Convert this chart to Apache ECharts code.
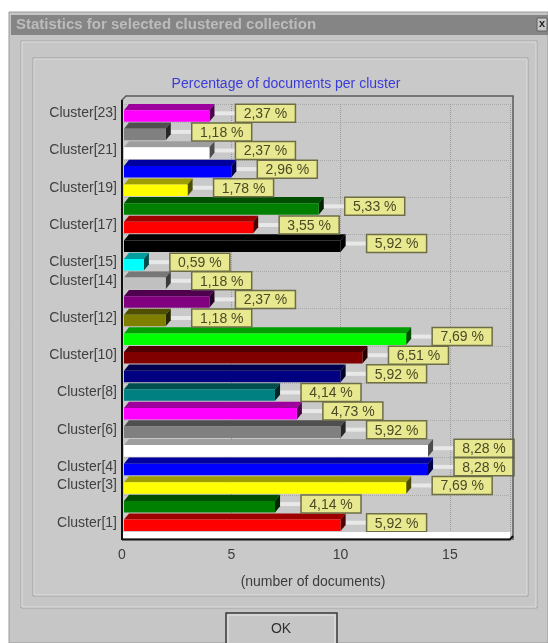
<!DOCTYPE html>
<html lang="en">
<head>
    <meta charset="UTF-8">
    <title>Statistics for selected clustered collection</title>
    <script src="https://cdn.jsdelivr.net/npm/echarts@6/dist/echarts.min.js"></script>
    <style>
        html, body { margin: 0; padding: 0; background: #ffffff; }
        #main { width: 548px; height: 643px; }
    </style>
</head>
<body>
    <div id="main"></div>
    <script>
        // categories from bottom to top
        const clusters = ['Cluster[1]', 'Cluster[2]', 'Cluster[3]', 'Cluster[4]', 'Cluster[5]', 'Cluster[6]',
            'Cluster[7]', 'Cluster[8]', 'Cluster[9]', 'Cluster[10]', 'Cluster[11]', 'Cluster[12]',
            'Cluster[13]', 'Cluster[14]', 'Cluster[15]', 'Cluster[16]', 'Cluster[17]', 'Cluster[18]',
            'Cluster[19]', 'Cluster[20]', 'Cluster[21]', 'Cluster[22]', 'Cluster[23]']
        // number of documents per cluster
        const docCounts = [10, 7, 13, 14, 14, 10, 8, 7, 10, 11, 13, 2, 4, 2, 1, 10, 6, 9, 3, 5, 4, 2, 4]
        // percentage labels as printed
        const percentLabels = ['5,92 %', '4,14 %', '7,69 %', '8,28 %', '8,28 %', '5,92 %', '4,73 %', '4,14 %',
            '5,92 %', '6,51 %', '7,69 %', '1,18 %', '2,37 %', '1,18 %', '0,59 %', '5,92 %', '3,55 %',
            '5,33 %', '1,78 %', '2,96 %', '2,37 %', '1,18 %', '2,37 %']
        const barColors = ['#ff0000', '#008000', '#ffff00', '#0000ff', '#ffffff', '#808080', '#ff00ff',
            '#008080', '#000080', '#800000', '#00ff00', '#808000', '#800080', '#c0c0c0', '#00ffff',
            '#000000', '#ff0000', '#008000', '#ffff00', '#0000ff', '#ffffff', '#808080', '#ff00ff']
        // y labels that the original shows
        const shownLabels = ['Cluster[1]', 'Cluster[3]', 'Cluster[4]', 'Cluster[6]', 'Cluster[8]', 'Cluster[10]',
            'Cluster[12]', 'Cluster[14]', 'Cluster[15]', 'Cluster[17]', 'Cluster[19]', 'Cluster[21]', 'Cluster[23]']
        const xTicks = [0, 5, 10, 15]

        const FONT = 'Liberation Sans, Arial, sans-serif'

        function shade(hex, f) {
            let n = parseInt(hex.slice(1), 16)
            let r = Math.round(((n >> 16) & 255) * f), g = Math.round(((n >> 8) & 255) * f), b = Math.round((n & 255) * f)
            return 'rgb(' + r + ',' + g + ',' + b + ')'
        }

        // 3D bar with a yellow value box
        function renderBar(params, api) {
            let idx = api.value(1), val = api.value(0)
            let p0 = api.coord([0, idx]), p1 = api.coord([val, idx])
            let band = api.size([0, 1])[1]
            let c = p0[1]
            let fTop = c - band * 0.17, fBot = c + band * 0.45
            let d = band * 0.33, dx = band * 0.27
            let x0 = p0[0] + 2, x1 = p1[0]
            let col = barColors[idx]
            let boxX = x1 + 26, boxW = 60, boxH = 18
            return {
                type: 'group',
                children: [
                    {
                        type: 'line',
                        shape: { x1: x1 + dx, y1: c, x2: boxX, y2: c },
                        style: { stroke: '#e8e8e8', lineWidth: 4 }
                    },
                    {
                        type: 'polygon',
                        shape: { points: [[x0, fTop], [x1, fTop], [x1 + dx, fTop - d], [x0 + dx, fTop - d]] },
                        style: { fill: shade(col, 0.62) }
                    },
                    {
                        type: 'polygon',
                        shape: { points: [[x1, fTop], [x1 + dx, fTop - d], [x1 + dx, fBot - d], [x1, fBot]] },
                        style: { fill: shade(col, 0.3) }
                    },
                    {
                        type: 'rect',
                        shape: { x: x0, y: fTop, width: x1 - x0, height: fBot - fTop },
                        style: { fill: col }
                    },
                    {
                        type: 'rect',
                        shape: { x: boxX, y: c - boxH / 2, width: boxW, height: boxH },
                        style: { fill: '#e8e890', stroke: '#6e6e46', lineWidth: 1.5 }
                    },
                    {
                        type: 'text',
                        style: {
                            text: percentLabels[idx], x: boxX + boxW / 2, y: c + 1,
                            align: 'center', verticalAlign: 'middle',
                            font: '14px ' + FONT, fill: '#4a4a26'
                        }
                    }
                ]
            }
        }

        let chart = echarts.init(document.getElementById('main'))
        let option = {
            backgroundColor: '#ffffff',
            animation: false,
            title: {
                text: 'Percentage of documents per cluster',
                left: 281, top: 72, textAlign: 'center',
                textStyle: { color: '#3a3ad8', fontSize: 14, fontWeight: 'normal', fontFamily: FONT }
            },
            grid: { left: 122, right: 38, top: 104, bottom: 111, containLabel: false },
            xAxis: {
                type: 'value', min: 0, max: 17.75, interval: 5,
                axisLine: { show: false },
                axisTick: { show: false },
                axisLabel: {
                    margin: 16, color: '#3c3c3c', fontSize: 14, fontFamily: FONT, showMaxLabel: false,
                    formatter: v => xTicks.includes(v) ? String(v) : ''
                },
                splitLine: { show: true, lineStyle: { color: '#9a9a9a', type: 'dotted' } },
                name: '(number of documents)', nameLocation: 'middle', nameGap: 43,
                nameTextStyle: { color: '#3c3c3c', fontSize: 14, fontFamily: FONT, padding: [0, 6, 0, 0] }
            },
            yAxis: {
                type: 'category', data: clusters,
                axisLine: { show: false },
                axisTick: { show: false },
                axisLabel: {
                    margin: 5, color: '#404040', fontSize: 14, fontFamily: FONT,
                    padding: [7, 0, 0, 0],
                    interval: (i, v) => shownLabels.includes(v)
                },
                splitLine: { show: true, interval: 1, lineStyle: { color: '#aaaaaa', type: 'dotted' } }
            },
            graphic: [
                // dialog body
                { type: 'rect', z: -100, shape: { x: 9, y: 12, width: 539, height: 631 }, style: { fill: '#c6c6c6', stroke: '#9a9a9a' } },
                { type: 'rect', z: -99, shape: { x: 11, y: 15, width: 537, height: 20 }, style: { fill: '#858585' } },
                { type: 'text', z: -98, style: { text: 'Statistics for selected clustered collection', x: 16, y: 25, verticalAlign: 'middle', font: 'bold 15px ' + FONT, fill: '#bcbcbc' } },
                { type: 'rect', z: -98, shape: { x: 537, y: 18, width: 10, height: 13 }, style: { fill: '#c6c6c6', stroke: '#606060' } },
                { type: 'text', z: -97, style: { text: 'x', x: 542, y: 24, align: 'center', verticalAlign: 'middle', font: 'bold 11px ' + FONT, fill: '#202020' } },
                // group box and panel
                { type: 'rect', z: -98, shape: { x: 21, y: 41, width: 516, height: 567 }, style: { fill: 'none', stroke: '#a4a4a4' } },
                { type: 'rect', z: -98, shape: { x: 22, y: 42, width: 514, height: 565 }, style: { fill: 'none', stroke: '#dedede' } },
                { type: 'rect', z: -98, shape: { x: 33, y: 58, width: 495, height: 538 }, style: { fill: '#c9c9c9', stroke: '#a0a0a0' } },
                { type: 'rect', z: -98, shape: { x: 34, y: 59, width: 493, height: 536 }, style: { fill: 'none', stroke: '#dcdcdc' } },
                // plot walls
                { type: 'polyline', z: 50, shape: { points: [[122, 540], [122, 100], [126, 96], [513, 96], [513, 540]] }, style: { stroke: '#5a5a5a', lineWidth: 1.5, fill: 'none' } },
                { type: 'line', z: 51, shape: { x1: 122, y1: 100, x2: 122, y2: 540 }, style: { stroke: '#101010', lineWidth: 2 } },
                { type: 'rect', z: 50, shape: { x: 122, y: 532, width: 388, height: 6 }, style: { fill: '#ffffff' } },
                { type: 'polyline', z: 51, shape: { points: [[122, 539.5], [510, 539.5], [513, 536]] }, style: { stroke: '#101010', lineWidth: 2, fill: 'none' } },
                // OK button
                { type: 'rect', z: -98, shape: { x: 226, y: 613, width: 111, height: 34 }, style: { fill: '#c6c6c6', stroke: '#3a3a3a', lineWidth: 1.5 } },
                { type: 'rect', z: -97, shape: { x: 228, y: 615, width: 107, height: 30 }, style: { fill: 'none', stroke: '#e4e4e4' } },
                { type: 'text', z: -96, style: { text: 'OK', x: 281, y: 629, align: 'center', verticalAlign: 'middle', font: '14px ' + FONT, fill: '#303030' } }
            ],
            series: [
                {
                    type: 'custom',
                    renderItem: renderBar,
                    encode: { x: 0, y: 1 },
                    data: docCounts.map((v, i) => [v, i]),
                    z: 10,
                    clip: false
                }
            ]
        }
        chart.setOption(option)
    </script>
</body>
</html>
